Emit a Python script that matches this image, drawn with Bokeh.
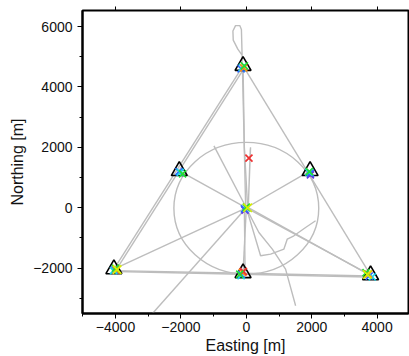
from bokeh.plotting import figure
from bokeh.models import FixedTicker, LinearAxis, Range1d
from bokeh.embed import file_html
from bokeh.resources import INLINE

# ---- data (metres) ----
station_x = [-100, -2050, 1950, -4050, -100, 3800]
station_y = [4700, 1220, 1220, -2030, -2160, -2230]

# survey tracks (gray)
track_x = [
    [-100, -4050],
    [-40, -3990],
    [-100, 3800],
    [-4050, -100, 3800],
    [-3980, 3700],
    [0, -2050],
    [0, 1950],
    [0, -4050],
    [0, 3800],
    [20, 3720],
    [0, -100],
    [40, -60, -100],
    [-20, -60, -120],
    [-130, -130, -150, -200, -330, -410, -400, -260, -130],
    [0, -2870],
    [20, 385, 795, 1200, 1508],
    [0, 436, 743, 1150, 1253, 1456, 1813, 2119],
    [-990, 0],
    [60, 120, 130, 60],
    [-60, -40, -80],
]
track_y = [
    [4700, -2030],
    [4660, -2070],
    [4700, -2230],
    [-2080, -2170, -2260],
    [-2110, -2290],
    [0, 1220],
    [0, 1220],
    [0, -2030],
    [0, -2230],
    [30, -2200],
    [0, -2160],
    [0, 2000, 4700],
    [0, 1900, 4650],
    [4700, 5100, 5900, 6030, 6030, 5850, 5550, 5250, 5050],
    [0, -3500],
    [-60, -818, -1368, -2030, -3245],
    [0, -1590, -1533, -1368, -1037, -927, -652, -430],
    [2050, 0],
    [0, 1900, 2000, 50],
    [-100, -1900, -2100],
]

circle_x = [0]
circle_y = [-15]
circle_w = [4430]
circle_h = [4360]

# picks by colour (x, y)
purple_x = [1960, -40]
purple_y = [1090, -80]
blue_x = [-160, -2060, 1960, -4020, -150, 3760, -60]
blue_y = [4600, 1200, 1150, -2060, -2210, -2260, -40]
cyan_x = [-120, -2020, 1910, -4060, -160, 3850, 20]
cyan_y = [4650, 1170, 1180, -2080, -2250, -2290, -10]
orange_x = [-80, -3980, -120, 3740]
orange_y = [4630, -2060, -2140, -2200]
red_x = [80, -90]
red_y = [1645, -2110]
green_x = [-60, -1950, 1930, -4000, -200, 3660, 0]
green_y = [4700, 1120, 1200, -2000, -2200, -2150, 20]
yellow_x = [40, -3950, 3700]
yellow_y = [0, -2050, -2210]

x_ticks = [-4000, -2000, 0, 2000, 4000]
x_minor = [-5000, -3000, -1000, 1000, 3000]
y_ticks = [-2000, 0, 2000, 4000, 6000]
y_minor = [-3000, -1000, 1000, 3000, 5000]
tick_labels = {-4000: "\u22124000", -2000: "\u22122000", 0: "0",
               2000: "2000", 4000: "4000", 6000: "6000"}

FONT = "Liberation Sans"

p = figure(width=409, height=356, output_backend="svg", toolbar_location=None,
           x_range=Range1d(-5010, 4960), y_range=Range1d(-3500, 6530),
           min_border_left=82, min_border_right=1, min_border_top=10,
           min_border_bottom=0)
p.grid.visible = False
p.outline_line_color = "black"
p.outline_line_width = 2
p.background_fill_color = "white"
p.border_fill_color = "white"

p.multi_line(track_x, track_y, line_color="#bdbdbd", line_width=1.4)
p.ellipse(x=circle_x, y=circle_y, width=circle_w, height=circle_h,
          fill_color=None, line_color="#bdbdbd", line_width=1.4)

p.scatter(station_x, station_y, marker="triangle", size=16, fill_color=None,
          line_color="black", line_width=1.6)

for xs, ys, col, sz in [(purple_x, purple_y, "#6a30e0", 10),
                        (blue_x, blue_y, "#2a6cff", 10),
                        (cyan_x, cyan_y, "#18d6e6", 10),
                        (orange_x, orange_y, "#ff8c1a", 10),
                        (red_x, red_y, "#ee3030", 10),
                        (green_x, green_y, "#22dd33", 10),
                        (yellow_x, yellow_y, "#d8f000", 12)]:
    p.scatter(xs, ys, marker="x", size=sz, line_color=col, line_width=1.7)

for ax, ticks, minor in [(p.xaxis[0], x_ticks, x_minor), (p.yaxis[0], y_ticks, y_minor)]:
    ax.ticker = FixedTicker(ticks=ticks, minor_ticks=minor)
    ax.major_label_overrides = tick_labels
    ax.major_label_text_font = FONT
    ax.major_label_text_font_size = "14px"
    ax.major_label_text_color = "#111111"
    ax.axis_label_text_font = FONT
    ax.axis_label_text_font_size = "16px"
    ax.axis_label_text_font_style = "normal"
    ax.axis_label_text_color = "#111111"
    ax.axis_line_color = "black"
    ax.axis_line_width = 2
    ax.major_tick_line_color = "black"
    ax.minor_tick_line_color = "black"
    ax.major_tick_out = 5
    ax.major_tick_in = 0
    ax.minor_tick_out = 3
    ax.minor_tick_in = 0

p.xaxis.major_label_standoff = 3
p.xaxis.axis_label_standoff = 2
p.yaxis.major_label_standoff = 5
p.yaxis.axis_label_standoff = 4

p.xaxis.axis_label = "Easting [m]"
p.yaxis.axis_label = "Northing [m]"

# top axis: ticks only (drawn as minor ticks so no labels are produced)
top = LinearAxis(ticker=FixedTicker(ticks=[], minor_ticks=x_ticks),
                 axis_line_color=None, major_tick_out=0, major_tick_in=0,
                 minor_tick_out=4, minor_tick_in=0, minor_tick_line_color="black")
p.add_layout(top, "above")

html = file_html(p, INLINE)
open("out.html", "w").write(html)
